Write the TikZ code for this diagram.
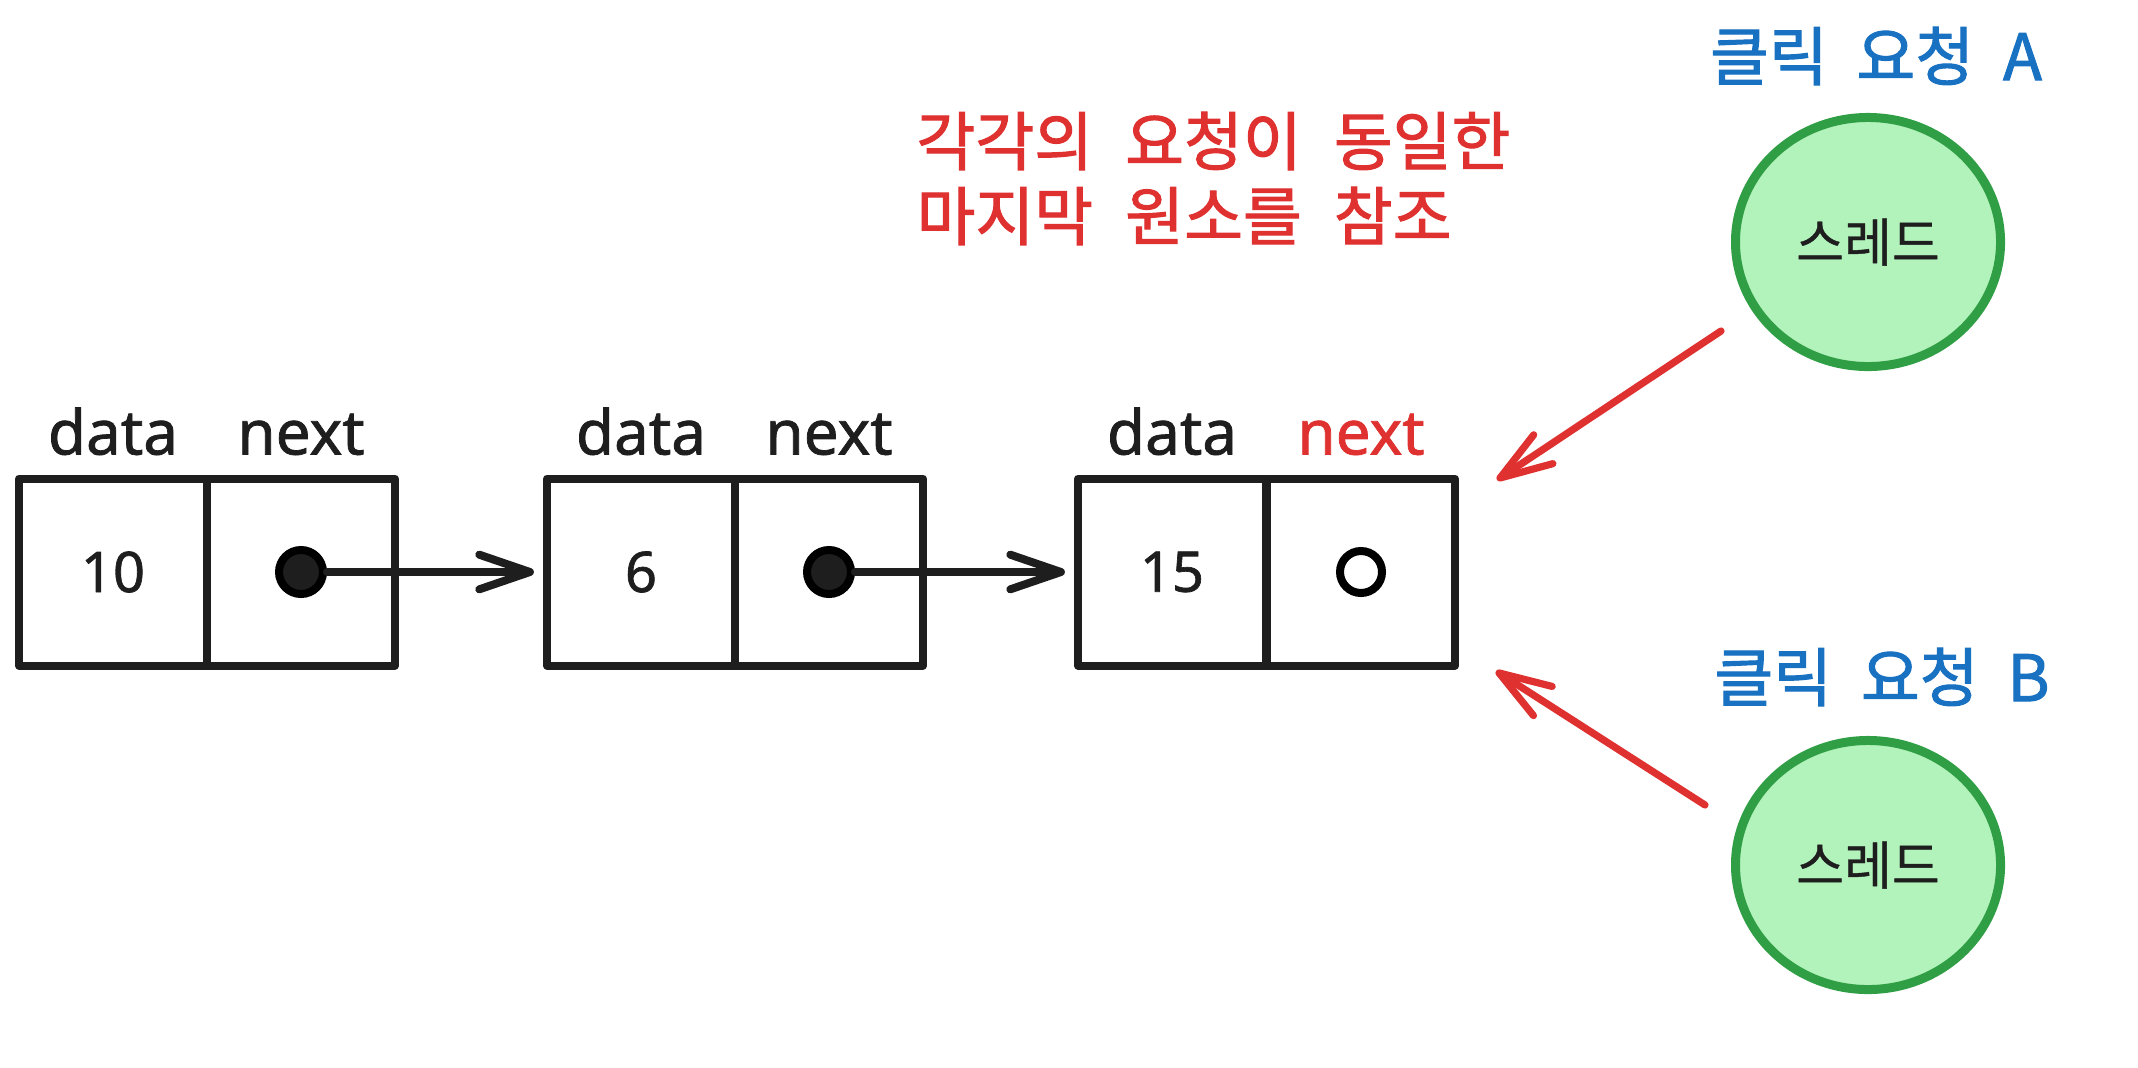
\documentclass[tikz,border=0pt]{standalone}
\usepackage{fontspec}
\setmainfont{Noto Sans}
\newfontfamily\cjk{Noto Sans CJK KR}[FakeBold=0.8]
\newfontfamily\cjkm{Noto Sans CJK KR}[FakeBold=1.6]
\newfontfamily\latm{Noto Sans}[FakeBold=1.2]
\usetikzlibrary{arrows.meta,shapes.geometric}
\definecolor{ink}{HTML}{1E1E1E}
\definecolor{exred}{HTML}{E03131}
\definecolor{exblue}{HTML}{1971C2}
\definecolor{exgreen}{HTML}{2F9E44}
\definecolor{exfill}{HTML}{B2F2BB}
\newcommand\wsp{\hspace{0.5em}}
\begin{document}
\begin{tikzpicture}[x=0.375pt,y=-0.375pt,
  cell/.style={draw=ink, line width=3pt, line join=round, minimum width=70.5pt, minimum height=70.125pt, inner sep=0pt, text=ink, font=\latm\fontsize{21pt}{25pt}\selectfont},
  hdr/.style={anchor=base, yshift=7.5pt, inner sep=0pt, text=ink, font=\latm\fontsize{23.25pt}{28pt}\selectfont},
  fulldot/.style={circle, draw=black, fill=ink, line width=3pt, minimum size=16.5pt, inner sep=0pt},
  nildot/.style={circle, draw=black, fill=white, line width=3pt, minimum size=15.75pt, inner sep=0pt},
  thread/.style={ellipse, draw=exgreen, fill=exfill, line width=3.375pt, minimum width=99.4pt, minimum height=93.4pt, inner sep=0pt, text=ink, font=\cjk\fontsize{19.5pt}{23pt}\selectfont},
  reqlbl/.style={text=exblue, inner sep=0pt, font=\cjkm\fontsize{24pt}{29pt}\selectfont},
  note/.style={anchor=base west, text=exred, inner sep=0pt, font=\cjkm\fontsize{24pt}{29pt}\selectfont},
  ptr/.style={draw=ink, line width=3pt, line cap=round, shorten >=3.4pt, -{Straight Barb[length=19pt,width=13pt,round]}},
  req/.style={draw=exred, line width=2.7pt, line cap=round, -{Straight Barb[length=19.5pt,width=13pt,round]}}
]
\useasboundingbox (0,0) rectangle (2138,1067);

% linked list
\node[cell] (data1) at (113,572) {10};
\node[cell] (next1) at (301,572) {};
\node[cell] (data2) at (641,572) {6};
\node[cell] (next2) at (829,572) {};
\node[cell] (data3) at (1172,572) {15};
\node[cell] (next3) at (1361,572) {};

\node[hdr] (h1) at (data1.north) {data};
\node[hdr] (h2) at (next1.north) {next};
\node[hdr] (h3) at (data2.north) {data};
\node[hdr] (h4) at (next2.north) {next};
\node[hdr] (h5) at (data3.north) {data};
\node[hdr, text=exred] (h6) at (next3.north) {next};

\node[fulldot] (dot1) at (next1.center) {};
\node[fulldot] (dot2) at (next2.center) {};
\node[nildot] (nil) at (next3.center) {};

\draw[ptr] (dot1) -- (data2.west);
\draw[ptr] (dot2) -- (data3.west);

% note
\node[note] (note1) at (916,165) {각각의\wsp 요청이\wsp 동일한};
\node[note] (note2) at (916,240) {마지막\wsp 원소를\wsp 참조};

% threads
\node[reqlbl] (lblA) at (1876,56) {클릭\hspace{0.45em}요청\hspace{0.45em}A};
\node[thread] (thrA) at (1868,242) {스레드};
\node[reqlbl] (lblB) at (1882,677) {클릭\hspace{0.45em}요청\hspace{0.45em}B};
\node[thread] (thrB) at (1868,865) {스레드};

\coordinate (aFrom) at (1721,331);
\coordinate (aTo) at (1497,480);
\coordinate (bFrom) at (1705,805);
\coordinate (bTo) at (1496,671);
\draw[req] (aFrom) -- (aTo);
\draw[req] (bFrom) -- (bTo);
\end{tikzpicture}
\end{document}
